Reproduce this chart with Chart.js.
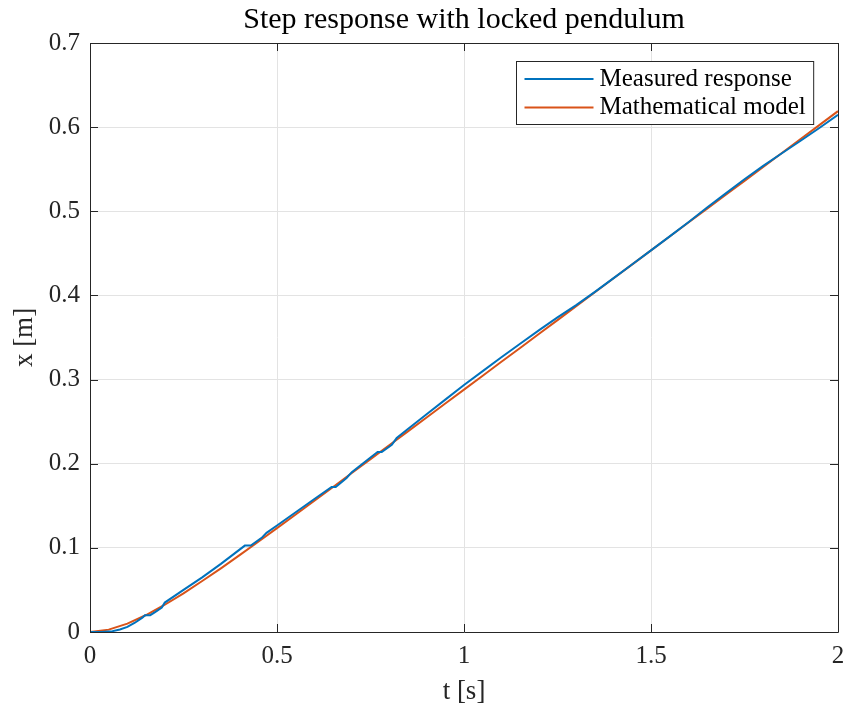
<!DOCTYPE html>
<html>
<head>
<meta charset="utf-8">
<script src="https://cdn.jsdelivr.net/npm/chart.js@4.4.1/dist/chart.umd.min.js"></script>
<style>
  html, body { margin: 0; padding: 0; background: #fff; }
  #wrap { width: 846px; height: 711px; }
</style>
</head>
<body>
<div id="wrap"><canvas id="myChart" width="846" height="711"></canvas></div>
<script>
// measured cart position
var measuredT = [0, 0.03, 0.06, 0.08, 0.10, 0.12, 0.14, 0.147, 0.161, 0.175, 0.192, 0.20,
  0.25, 0.30, 0.35, 0.414, 0.43, 0.459, 0.472, 0.50, 0.55, 0.60, 0.646, 0.657, 0.686, 0.70,
  0.75, 0.769, 0.78, 0.807, 0.82, 0.85, 0.90, 0.95, 1.00, 1.05, 1.10, 1.15, 1.20, 1.25, 1.30,
  1.35, 1.40, 1.45, 1.50, 1.55, 1.60, 1.65, 1.70, 1.75, 1.80, 1.85, 1.90, 1.95, 2.00];
var measuredX = [0, 0.0, 0.001, 0.003, 0.006, 0.011, 0.017, 0.020, 0.020, 0.024, 0.029, 0.035,
  0.050, 0.065, 0.081, 0.1027, 0.1027, 0.1119, 0.1178, 0.1266, 0.1423, 0.158, 0.1724, 0.1724, 0.183, 0.190,
  0.2073, 0.2139, 0.2139, 0.2225, 0.2305, 0.2412, 0.2588, 0.2762, 0.2935, 0.3100, 0.3265, 0.3426, 0.3585, 0.3740, 0.3885,
  0.4042, 0.4205, 0.4370, 0.4535, 0.4702, 0.4870, 0.5045, 0.5213, 0.5380, 0.5540, 0.5690, 0.5838, 0.5990, 0.6146];

// model response
var modelT = [0, 0.05, 0.10, 0.15, 0.20, 0.25, 0.30, 0.35, 0.40, 0.45, 0.50, 0.55, 0.60, 0.65,
  0.70, 0.75, 0.80, 0.85, 0.90, 0.95, 1.00, 1.05, 1.10, 1.15, 1.20, 1.25, 1.30, 1.35, 1.40,
  1.45, 1.50, 1.55, 1.60, 1.65, 1.70, 1.75, 1.80, 1.85, 1.90, 1.95, 2.00];
var modelX = [0, 0.0028, 0.0100, 0.0202, 0.0324, 0.0460, 0.0606, 0.0757, 0.0914, 0.1073, 0.1234, 0.1397, 0.1560, 0.1724,
  0.1889, 0.2054, 0.2219, 0.2384, 0.2549, 0.2715, 0.2880, 0.3045, 0.3211, 0.3376, 0.3542, 0.3707, 0.3873, 0.4038, 0.4204,
  0.4369, 0.4535, 0.4700, 0.4866, 0.5031, 0.5197, 0.5362, 0.5528, 0.5693, 0.5859, 0.6024, 0.6190];

var seriesNames = ["Measured response", "Mathematical model"];
var seriesColors = ["#0072BD", "#D95319"];
var xTicks = [0, 0.5, 1, 1.5, 2];
var yTicks = [0, 0.1, 0.2, 0.3, 0.4, 0.5, 0.6, 0.7];

var FONT = "'Liberation Serif', 'DejaVu Serif', serif";
var AXIS = "#262626";

var toPoints = function (ts, xs) {
  var pts = [];
  for (var i = 0; i < ts.length; i++) {
    pts.push({ x: ts[i], y: xs[i] });
  }
  return pts;
};

// box round the axes with inward ticks, and the legend inside the plot
var matlabBox = {
  id: "matlabBox",
  afterDraw: function (chart) {
    var ctx = chart.ctx;
    var a = chart.chartArea;
    var xs = chart.scales.x, ys = chart.scales.y;
    var tl = 8;
    ctx.save();
    ctx.strokeStyle = AXIS;
    ctx.lineWidth = 1;
    ctx.beginPath();
    ctx.rect(Math.round(a.left) + 0.5, Math.round(a.top) + 0.5,
      Math.round(a.right - a.left), Math.round(a.bottom - a.top));
    for (var i = 0; i < xTicks.length; i++) {
      var px = Math.round(xs.getPixelForValue(xTicks[i])) + 0.5;
      ctx.moveTo(px, a.bottom); ctx.lineTo(px, a.bottom - tl);
      ctx.moveTo(px, a.top); ctx.lineTo(px, a.top + tl);
    }
    for (var j = 0; j < yTicks.length; j++) {
      var py = Math.round(ys.getPixelForValue(yTicks[j])) + 0.5;
      ctx.moveTo(a.left, py); ctx.lineTo(a.left + tl, py);
      ctx.moveTo(a.right, py); ctx.lineTo(a.right - tl, py);
    }
    ctx.stroke();

    // legend
    ctx.font = "25px " + FONT;
    var maxW = 0;
    for (var k = 0; k < seriesNames.length; k++) {
      maxW = Math.max(maxW, ctx.measureText(seriesNames[k]).width);
    }
    var lineLen = 69, gap = 6, padL = 8, padR = 8, rowH = 28.5;
    var boxW = padL + lineLen + gap + maxW + padR;
    var boxH = 63;
    var bx = Math.round(a.right - 25 - boxW) + 0.5;
    var by = Math.round(a.top + 18) + 0.5;
    ctx.fillStyle = "#fff";
    ctx.fillRect(bx, by, boxW, boxH);
    ctx.strokeStyle = AXIS;
    ctx.lineWidth = 1;
    ctx.strokeRect(bx, by, boxW, boxH);
    ctx.textBaseline = "middle";
    ctx.textAlign = "left";
    for (var m = 0; m < seriesNames.length; m++) {
      var cy = by + 17.5 + m * rowH;
      ctx.strokeStyle = seriesColors[m];
      ctx.lineWidth = 2;
      ctx.beginPath();
      ctx.moveTo(bx + padL, cy);
      ctx.lineTo(bx + padL + lineLen, cy);
      ctx.stroke();
      ctx.fillStyle = "#000";
      ctx.fillText(seriesNames[m], bx + padL + lineLen + gap, cy);
    }
    ctx.restore();
  }
};

var ctx = document.getElementById("myChart");
var myChart = new Chart(ctx, {
  type: "line",
  data: {
    datasets: [
      {
        label: seriesNames[0],
        data: toPoints(measuredT, measuredX),
        borderColor: seriesColors[0],
        borderWidth: 2,
        pointRadius: 0,
        tension: 0,
        fill: false
      },
      {
        label: seriesNames[1],
        data: toPoints(modelT, modelX),
        borderColor: seriesColors[1],
        borderWidth: 2,
        pointRadius: 0,
        tension: 0,
        fill: false
      }
    ]
  },
  options: {
    responsive: false,
    animation: false,
    layout: { padding: { left: 0, right: 8, top: 0, bottom: 0 } },
    plugins: {
      legend: { display: false },
      tooltip: { enabled: false },
      title: {
        display: true,
        fullSize: false,
        text: "Step response with locked pendulum",
        color: "#000",
        font: { family: FONT, size: 30, weight: "normal" },
        padding: { top: 2, bottom: 5 }
      }
    },
    scales: {
      x: {
        type: "linear",
        min: 0,
        max: 2,
        afterBuildTicks: function (scale) {
          scale.ticks = xTicks.map(function (v) { return { value: v }; });
        },
        afterFit: function (scale) {
          scale.height = 79;
          scale.paddingLeft = 0;
          scale.paddingRight = 0;
        },
        grid: { color: "#e3e3e3", drawTicks: false },
        border: { display: false },
        ticks: {
          color: "#262626",
          padding: 9,
          maxRotation: 0,
          font: { family: FONT, size: 25 },
          callback: function (v) { return String(Number(v.toFixed(1))); }
        },
        title: {
          display: true,
          text: "t [s]",
          color: "#262626",
          font: { family: FONT, size: 27 },
          padding: { top: 0, bottom: 3 }
        }
      },
      y: {
        type: "linear",
        min: 0,
        max: 0.7,
        afterBuildTicks: function (scale) {
          scale.ticks = yTicks.map(function (v) { return { value: v }; });
        },
        afterFit: function (scale) {
          scale.width = 90;
          scale.paddingTop = 0;
          scale.paddingBottom = 0;
        },
        grid: { color: "#e3e3e3", drawTicks: false },
        border: { display: false },
        ticks: {
          color: "#262626",
          padding: 10,
          font: { family: FONT, size: 25 },
          callback: function (v) { return String(Number(v.toFixed(1))); }
        },
        title: {
          display: true,
          text: "x [m]",
          color: "#262626",
          font: { family: FONT, size: 27 },
          padding: { top: 9, bottom: 0 }
        }
      }
    }
  },
  plugins: [matlabBox]
});
</script>
</body>
</html>
